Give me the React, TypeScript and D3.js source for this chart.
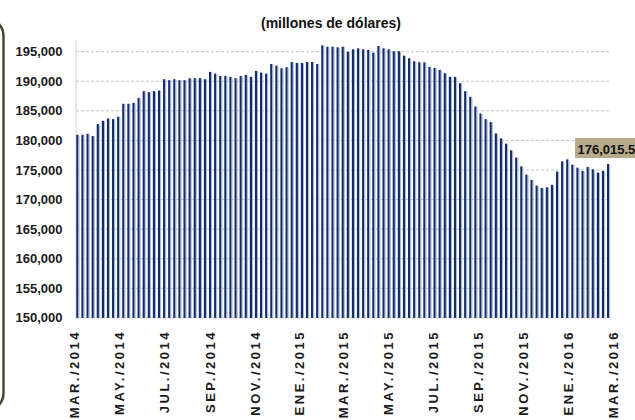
import React from "react";
import * as d3 from "d3";

const values: number[] = [
  180960, 180960, 181130, 180740, 182770, 183320, 183710, 183610, 184000, 186190,
  186190, 186360, 187200, 188330, 188160, 188330, 188430, 190350, 190180, 190350,
  190180, 190180, 190520, 190520, 190520, 190350, 191580, 191290, 190900, 190900,
  190740, 190520, 190900, 191070, 190740, 191750, 191460, 191290, 192930, 192640,
  192200, 192370, 193260, 193100, 193100, 193260, 193260, 192930, 196080, 195840,
  195840, 195740, 195840, 195000, 195400, 195570, 195400, 195290, 194830, 195960,
  195570, 195400, 195070, 195070, 194330, 193890, 193380, 193210, 193210, 192420,
  192250, 191920, 191360, 190740, 190740, 189680, 188330, 187370, 185730, 184550,
  183610, 183100, 181180, 180340, 179450, 178320, 177090, 175620, 174220, 173330,
  172370, 171980, 172080, 172490, 174730, 176460, 176800, 175910, 175400, 174840,
  175520, 175110, 174560, 174840, 176015.5,
];

const tickDates: string[] = [
  "2014-03-01", "2014-05-01", "2014-07-01", "2014-09-01", "2014-11-01", "2015-01-01",
  "2015-03-01", "2015-05-01", "2015-07-01", "2015-09-01", "2015-11-01", "2016-01-01",
  "2016-03-01",
];
const tickLabels: string[] = [
  "MAR./2014", "MAY./2014", "JUL./2014", "SEP./2014", "NOV./2014", "ENE./2015",
  "MAR./2015", "MAY./2015", "JUL./2015", "SEP./2015", "NOV./2015", "ENE./2016",
  "MAR./2016",
];
const yTicks: number[] = [150000, 155000, 160000, 165000, 170000, 175000, 180000, 185000, 190000, 195000];
const title = "(millones de dólares)";
const lastLabel = "176,015.5";

const W = 635;
const H = 420;
const FONT = "'Liberation Sans', Arial, sans-serif";

export default function App() {
  const plotLeft = 76;
  const plotRight = 611;
  const y = d3.scaleLinear().domain([150000, 197000]).range([317.9, 39.85]);
  const xb = d3.scaleLinear().domain([0, values.length - 1]).range([76.3, 607]);
  const parse = d3.timeParse("%Y-%m-%d");
  const xt = d3
    .scaleTime()
    .domain([parse(tickDates[0])!, parse(tickDates[tickDates.length - 1])!])
    .range([74.5, 613]);
  const fmt = d3.format(",");
  const lastIdx = values.length - 1;
  const lx = xb(lastIdx);
  const ly = y(values[lastIdx]);

  return (
    <svg
      width={W}
      height={H}
      style={{ position: "fixed", left: 0, top: 0, background: "#fff" }}
      fontFamily={FONT}
    >
      <rect x={0} y={0} width={W} height={H} fill="#fff" />
      {/* left neighbouring panel border */}
      <rect x={-40} y={18} width={43.5} height={393} rx={18} ry={18} fill="none" stroke="#4d4832" strokeWidth={2.5} />

      <text x={331} y={28} textAnchor="middle" fontSize={14} fontWeight="bold" fill="#111">
        {title}
      </text>

      {/* gridlines */}
      {yTicks.map((t) => (
        <line
          key={"g" + t}
          x1={plotLeft}
          x2={plotRight}
          y1={y(t)}
          y2={y(t)}
          stroke={t === 150000 ? "#cfcfcf" : "#c4c4c4"}
          strokeWidth={1}
          strokeDasharray={t === 150000 ? undefined : "3,2"}
        />
      ))}
      <line x1={plotLeft} x2={plotLeft} y1={y(197000)} y2={y(150000)} stroke="#d4d4d4" strokeWidth={1} />

      {/* y labels */}
      {yTicks.map((t) => (
        <text
          key={"yl" + t}
          x={62.5}
          y={y(t)}
          dy="0.35em"
          textAnchor="end"
          fontSize={13}
          fontWeight="bold"
          fill="#1a1a1a"
        >
          {fmt(t)}
        </text>
      ))}

      {/* bars */}
      {values.map((v, i) => (
        <g key={"b" + i}>
          <rect x={xb(i)} y={y(v)} width={2.2} height={y(150000) - y(v)} fill="#142c6b" />
          <rect x={xb(i) + 2.2} y={y(v) + 0.5} width={1} height={y(150000) - y(v) - 0.5} fill="#aab6d2" />
        </g>
      ))}

      {/* x labels */}
      {tickDates.map((d, i) => (
        <text
          key={"xl" + d}
          transform={`translate(${xt(parse(d)!)},330) rotate(-90)`}
          dy="0.35em"
          textAnchor="end"
          fontSize={13}
          fontWeight="bold"
          letterSpacing={2.5}
          fill="#1a1a1a"
        >
          {tickLabels[i]}
        </text>
      ))}

      {/* data label for last value */}
      <rect x={lx - 32} y={ly - 26} width={80} height={20} fill="#b8ab8c" />
      <text x={lx - 29.5} y={ly - 10} fontSize={13} fontWeight="bold" fill="#111">
        {lastLabel}
      </text>
    </svg>
  );
}
